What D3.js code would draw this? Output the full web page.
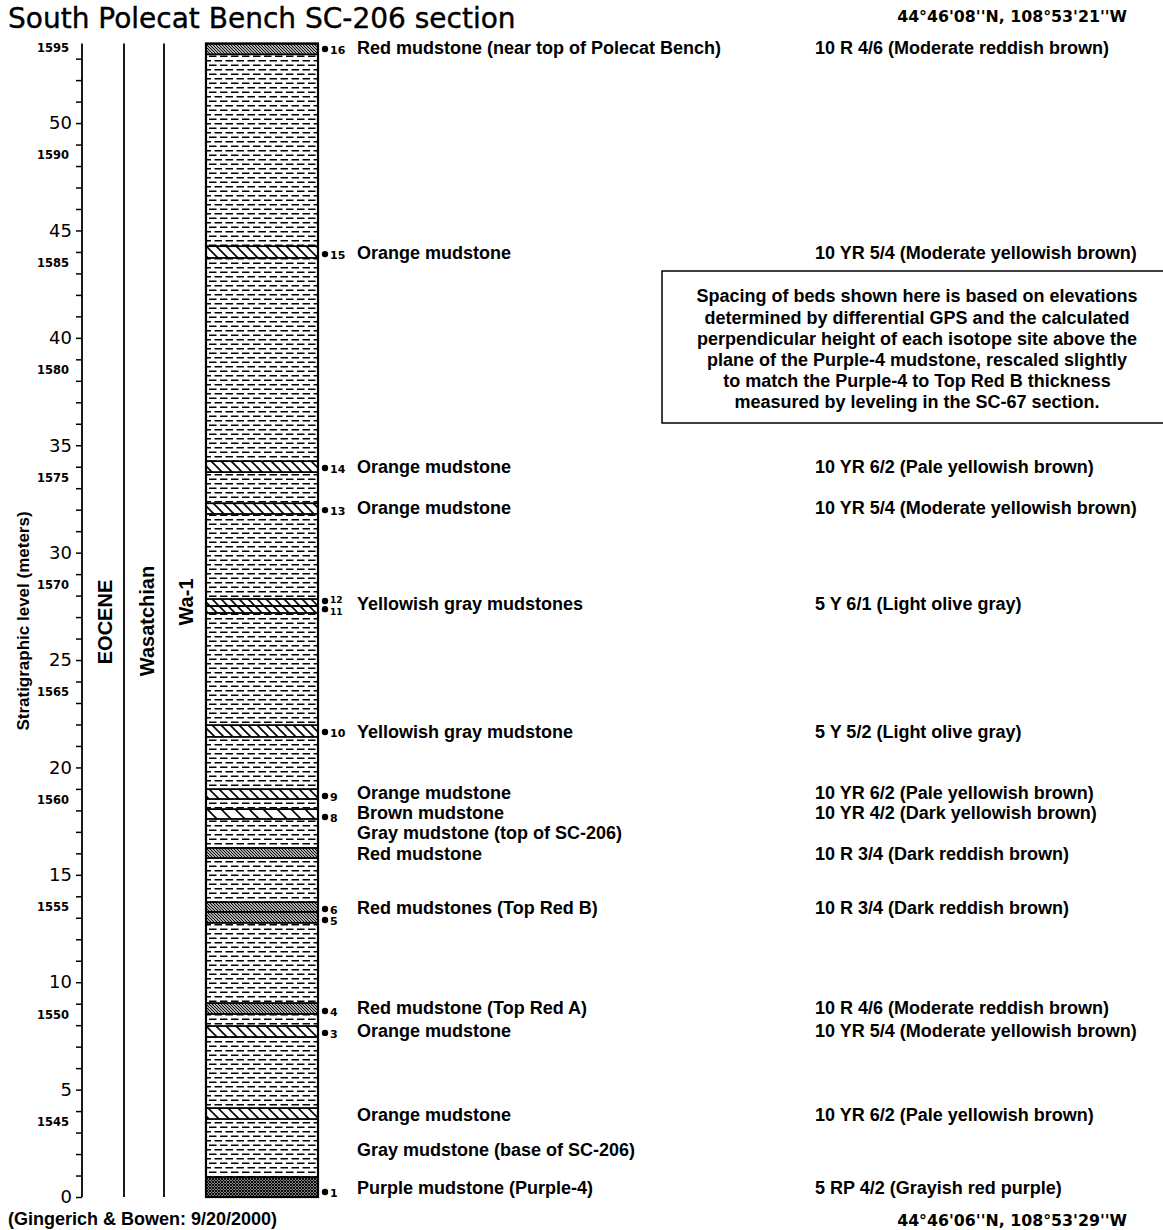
<!DOCTYPE html>
<html>
  <head>
    <meta charset="utf-8">
    <title>South Polecat Bench SC-206 section</title>
    <style>
      body { margin: 0; background: #fff; }
      .title { font: 28px "DejaVu Sans", sans-serif; stroke: #000; stroke-width: 0.4px; }
      .coords { font: bold 15.8px "DejaVu Sans", sans-serif; }
      .lbl { font: bold 18px "Liberation Sans", Arial, sans-serif; }
      .period { font: bold 20px "Liberation Sans", Arial, sans-serif; }
      .meter text { font: 18px "DejaVu Sans", sans-serif; }
      .elev text { font: bold 11.5px "DejaVu Sans", sans-serif; }
      .site { font: bold 11px "DejaVu Sans", sans-serif; }
    </style>
  </head>
  <body>
    <div id="chart"></div>
    <script src="https://cdn.jsdelivr.net/npm/d3@7"></script>
    <script>
      // beds in the column, meters above Purple-4
      var bedTops  = [53.7, 44.27, 34.26, 32.3, 27.84, 27.51, 21.97, 18.99, 18.06, 16.25, 13.73, 13.27, 9.03, 7.96, 4.14, 0.93];
      var bedBases = [53.2, 43.72, 33.75, 31.8, 27.51, 27.19, 21.42, 18.53, 17.6, 15.78, 13.27, 12.76, 8.52, 7.45, 3.63, 0];
      var bedKinds = ['red', 'orange', 'orange', 'orange', 'yellow', 'yellow', 'yellow', 'orange', 'brown',
                      'red', 'red', 'red', 'red', 'orange', 'orange', 'purple'];

      // isotope sites
      var siteNumbers = [16, 15, 14, 13, 12, 11, 10, 9, 8, 6, 5, 4, 3, 1];
      var siteLevels  = [53.45, 43.9, 33.94, 31.98, 27.75, 27.37, 21.65, 18.67, 17.69, 13.41, 12.9, 8.66, 7.64, 0.23];

      // unit descriptions and Munsell colours
      var unitNames = ['Red mudstone (near top of Polecat Bench)', 'Orange mudstone', 'Orange mudstone', 'Orange mudstone',
                       'Yellowish gray mudstones', 'Yellowish gray mudstone', 'Orange mudstone', 'Brown mudstone',
                       'Gray mudstone (top of SC-206)', 'Red mudstone', 'Red mudstones (Top Red B)', 'Red mudstone (Top Red A)',
                       'Orange mudstone', 'Orange mudstone', 'Gray mudstone (base of SC-206)', 'Purple mudstone (Purple-4)'];
      var unitLevels = [53.53, 43.99, 34.03, 32.08, 27.61, 21.69, 18.81, 17.88, 16.95, 16.01, 13.5, 8.8, 7.73, 3.82, 2.23, 0.42];
      var unitColors = ['10 R 4/6 (Moderate reddish brown)', '10 YR 5/4 (Moderate yellowish brown)', '10 YR 6/2 (Pale yellowish brown)',
                        '10 YR 5/4 (Moderate yellowish brown)', '5 Y 6/1 (Light olive gray)', '5 Y 5/2 (Light olive gray)',
                        '10 YR 6/2 (Pale yellowish brown)', '10 YR 4/2 (Dark yellowish brown)', '', '10 R 3/4 (Dark reddish brown)',
                        '10 R 3/4 (Dark reddish brown)', '10 R 4/6 (Moderate reddish brown)', '10 YR 5/4 (Moderate yellowish brown)',
                        '10 YR 6/2 (Pale yellowish brown)', '', '5 RP 4/2 (Grayish red purple)'];

      var meterTicks = d3.range(0, 54);
      var elevTicks = d3.range(1545, 1596, 5);
      var elevAtZero = 1541.5;
      var sectionTop = 53.7;

      var periodNames = ['EOCENE', 'Wasatchian', 'Wa-1'];
      var noteLines = ['Spacing of beds shown here is based on elevations',
                       'determined by differential GPS and the calculated',
                       'perpendicular height of each isotope site above the',
                       'plane of the Purple-4 mudstone, rescaled slightly',
                       'to match the Purple-4 to Top Red B thickness',
                       'measured by leveling in the SC-67 section.'];

      var width = 1163, height = 1230;
      var colLeft = 206, colRight = 318;

      var svg = d3.select('#chart').append('svg')
        .attr('width', width)
        .attr('height', height);

      var y = d3.scaleLinear().domain([0, sectionTop]).range([1197, 43.6]);
      var yElev = d3.scaleLinear().domain([elevAtZero, elevAtZero + sectionTop]).range(y.range());

      // fill patterns
      var defs = svg.append('defs');
      function pattern(id, w, h, d, sw) {
        var p = defs.append('pattern').attr('id', id)
          .attr('patternUnits', 'userSpaceOnUse')
          .attr('width', w).attr('height', h);
        p.append('rect').attr('width', w).attr('height', h).attr('fill', '#fff');
        p.append('path').attr('d', d).attr('stroke', '#000').attr('stroke-width', sw).attr('fill', 'none');
      }
      pattern('mud', 11, 9, 'M0,2.2H7.5M5.5,6.7H13M-5.5,6.7H2', 1.5);
      pattern('red', 3, 3, 'M0,0L3,3M-1,2L1,4M2,-1L4,1', 1.2);
      pattern('orange', 10, 10, 'M0,0L10,10M-1,9L1,11M9,-1L11,1', 1.6);
      pattern('yellow', 9, 9, 'M0,0L9,9M-1,8L1,10M8,-1L10,1', 1.6);
      pattern('brown', 14, 14, 'M0,0L14,14M-1,13L1,15M13,-1L15,1', 1.6);
      pattern('purple', 3, 3, 'M0,0L3,3M3,0L0,3M-1,2L1,4M2,-1L4,1M-1,1L1,-1M2,4L4,2', 1.1);

      // title and corner text
      svg.append('text').attr('class', 'title').attr('x', 8).attr('y', 28)
        .text('South Polecat Bench SC-206 section');
      svg.append('text').attr('class', 'coords').attr('x', 1127).attr('y', 22)
        .attr('text-anchor', 'end').text('44\u00b046\'08\'\'N, 108\u00b053\'21\'\'W');
      svg.append('text').attr('class', 'lbl').attr('x', 8).attr('y', 1225)
        .text('(Gingerich & Bowen: 9/20/2000)');
      svg.append('text').attr('class', 'coords').attr('x', 1127).attr('y', 1226)
        .attr('text-anchor', 'end').text('44\u00b046\'06\'\'N, 108\u00b053\'29\'\'W');

      // meter axis
      var meterAxis = d3.axisLeft(y)
        .tickValues(meterTicks)
        .tickSize(6)
        .tickPadding(4)
        .tickFormat(function(d) { return d % 5 === 0 ? d : ''; });
      svg.append('g').attr('class', 'meter')
        .attr('transform', 'translate(82,0)')
        .call(meterAxis)
        .call(function(g) {
          g.select('.domain').attr('d', 'M0,' + y(sectionTop) + 'V' + y(0)).attr('stroke-width', 1.8);
          g.selectAll('.tick line').attr('stroke-width', 1.5);
        });

      // elevation labels
      var elevAxis = d3.axisLeft(yElev)
        .tickValues(elevTicks)
        .tickSize(0)
        .tickPadding(13)
        .tickFormat(d3.format('d'));
      svg.append('g').attr('class', 'elev')
        .attr('transform', 'translate(82,0)')
        .call(elevAxis)
        .call(function(g) { g.select('.domain').remove(); });

      svg.append('text').attr('class', 'lbl')
        .attr('text-anchor', 'middle')
        .attr('transform', 'translate(29,621) rotate(-90)')
        .style('font-size', '17px')
        .text('Stratigraphic level (meters)');

      // period / stage / zone columns
      [124, 164].forEach(function(x) {
        svg.append('line').attr('x1', x).attr('x2', x)
          .attr('y1', y(sectionTop)).attr('y2', y(0))
          .attr('stroke', '#000').attr('stroke-width', 1.8);
      });
      var periodX = [112, 154, 193], periodY = [622, 621, 602];
      periodNames.forEach(function(t, i) {
        svg.append('text').attr('class', 'period')
          .attr('text-anchor', 'middle')
          .attr('transform', 'translate(' + periodX[i] + ',' + periodY[i] + ') rotate(-90)')
          .text(t);
      });

      // the section column
      svg.append('rect')
        .attr('x', colLeft).attr('y', y(sectionTop))
        .attr('width', colRight - colLeft).attr('height', y(0) - y(sectionTop))
        .attr('fill', 'url(#mud)');

      svg.selectAll('.bed')
        .data(bedKinds)
        .enter().append('rect')
        .attr('class', 'bed')
        .attr('x', colLeft)
        .attr('y', function(d, i) { return y(bedTops[i]); })
        .attr('width', colRight - colLeft)
        .attr('height', function(d, i) { return y(bedBases[i]) - y(bedTops[i]); })
        .attr('fill', function(d) { return 'url(#' + d + ')'; })
        .attr('stroke', '#000')
        .attr('stroke-width', 1.8);

      svg.append('rect')
        .attr('x', colLeft).attr('y', y(sectionTop))
        .attr('width', colRight - colLeft).attr('height', y(0) - y(sectionTop))
        .attr('fill', 'none').attr('stroke', '#000').attr('stroke-width', 2.2);

      // site markers (12 and 11 sit almost on top of each other)
      var siteShift = { 12: -2, 11: 2 };
      var sites = svg.selectAll('.sitemark')
        .data(siteNumbers)
        .enter().append('g')
        .attr('class', 'sitemark')
        .attr('transform', function(d, i) { return 'translate(325,' + y(siteLevels[i]) + ')'; });
      sites.append('circle').attr('r', 3.2).attr('fill', '#000');
      sites.append('text').attr('class', 'site')
        .attr('x', 5)
        .attr('y', function(d) { return siteShift[d] || 0; })
        .attr('dy', '0.42em')
        .style('font-size', function(d) { return siteShift[d] ? '9px' : null; })
        .text(function(d) { return d; });

      // descriptions
      svg.selectAll('.unit')
        .data(unitNames)
        .enter().append('text')
        .attr('class', 'lbl unit')
        .attr('x', 357)
        .attr('y', function(d, i) { return y(unitLevels[i]); })
        .attr('dy', '0.36em')
        .text(function(d) { return d; });

      svg.selectAll('.munsell')
        .data(unitColors)
        .enter().append('text')
        .attr('class', 'lbl munsell')
        .attr('x', 815)
        .attr('y', function(d, i) { return y(unitLevels[i]); })
        .attr('dy', '0.36em')
        .text(function(d) { return d; });

      // note box
      svg.append('rect')
        .attr('x', 662).attr('y', 271)
        .attr('width', 510).attr('height', 152)
        .attr('fill', '#fff').attr('stroke', '#000').attr('stroke-width', 1.5);
      svg.selectAll('.note')
        .data(noteLines)
        .enter().append('text')
        .attr('class', 'lbl note')
        .attr('x', 917)
        .attr('y', function(d, i) { return 296 + i * 21.2; })
        .attr('dy', '0.36em')
        .attr('text-anchor', 'middle')
        .text(function(d) { return d; });
    </script>
  </body>
</html>
